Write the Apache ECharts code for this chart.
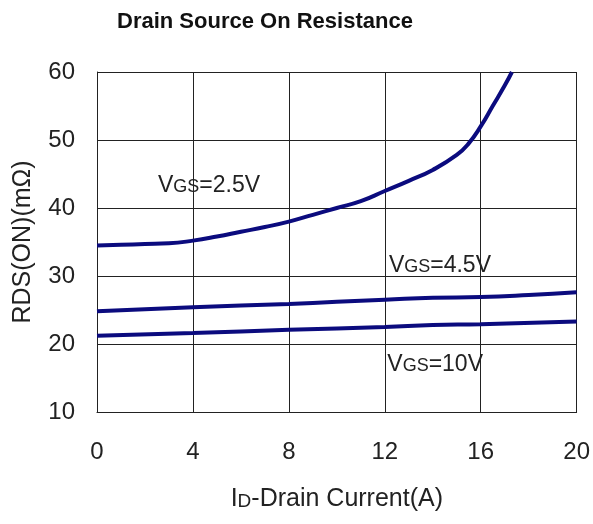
<!DOCTYPE html>
<html>
<head>
<meta charset="utf-8">
<script src="https://cdn.jsdelivr.net/npm/echarts@6/dist/echarts.min.js"></script>
<style>
  html, body { margin: 0; padding: 0; background: #fff; }
  #chart { width: 593px; height: 524px; }
</style>
</head>
<body>
<div id="chart"></div>
<script>
  // drain current (A) / on resistance (mOhm)
  var idVgs25 = [0, 1, 2, 3, 4, 5, 6, 7, 8, 9, 10, 11, 12, 13, 14, 15, 15.5, 16, 16.5, 17, 17.3];
  var rdsVgs25 = [34.5, 34.6, 34.7, 34.8, 35.2, 35.8, 36.5, 37.2, 38, 39, 40, 41, 42.5, 44, 45.6, 47.8, 49.5, 52, 55, 58, 60];
  var idVgs45 = [0, 4, 8, 10, 12, 14, 16, 18, 20];
  var rdsVgs45 = [24.8, 25.4, 25.9, 26.2, 26.5, 26.8, 26.9, 27.2, 27.6];
  var idVgs10 = [0, 4, 8, 12, 14, 16, 20];
  var rdsVgs10 = [21.2, 21.6, 22.1, 22.5, 22.8, 22.9, 23.3];

  // label anchors in data space
  var lbl25 = [4.67, 43.3];
  var lbl45 = [14.3, 31.5];
  var lbl10 = [14.1, 17.0];

  var lineColor = '#0b0b7e';
  var font = '"Liberation Sans", Arial, sans-serif';

  function pairs(xs, ys) {
    return xs.map(function (x, i) { return [x, ys[i]]; });
  }

  function vgsLabel(text, coord) {
    return {
      symbol: 'circle',
      symbolSize: 1,
      silent: true,
      itemStyle: { color: 'rgba(0,0,0,0)' },
      data: [{
        coord: coord,
        label: {
          show: true,
          position: 'inside',
          formatter: '{a|V}{b|GS}{a|=' + text + '}',
          rich: {
            a: { fontSize: 23, color: '#222', fontFamily: font },
            b: { fontSize: 18, color: '#222', fontFamily: font, verticalAlign: 'bottom', padding: [0, 0, 1, 0] }
          }
        }
      }]
    };
  }

  function curve(xs, ys, text, coord) {
    return {
      type: 'line',
      smooth: true,
      symbol: 'none',
      clip: true,
      lineStyle: { color: lineColor, width: 4 },
      data: pairs(xs, ys),
      markPoint: vgsLabel(text, coord)
    };
  }

  var chart = echarts.init(document.getElementById('chart'));
  chart.setOption({
    animation: false,
    title: {
      text: 'Drain Source On Resistance',
      left: 112,
      top: 6,
      textStyle: { fontSize: 22, fontWeight: 'bold', color: '#111', fontFamily: font }
    },
    grid: { left: 97, right: 16, top: 72, bottom: 112 },
    xAxis: {
      type: 'value',
      min: 0,
      max: 20,
      interval: 4,
      name: '{a|I}{b|D}{a|-Drain Current(A)}',
      nameLocation: 'middle',
      nameGap: 75,
      nameTextStyle: {
        rich: {
          a: { fontSize: 25, color: '#222', fontFamily: font },
          b: { fontSize: 19, color: '#222', fontFamily: font, verticalAlign: 'bottom', padding: [0, 0, 1, 0] }
        }
      },
      axisLine: { show: true, lineStyle: { color: '#222', width: 1 } },
      axisTick: { show: false },
      axisLabel: { fontSize: 24, color: '#222', fontFamily: font, margin: 28 },
      splitLine: { show: true, lineStyle: { color: '#222', width: 1 } }
    },
    yAxis: {
      type: 'value',
      min: 10,
      max: 60,
      interval: 10,
      name: 'RDS(ON)(mΩ)',
      nameLocation: 'middle',
      nameGap: 61,
      nameTextStyle: { fontSize: 25, color: '#222', fontFamily: font },
      axisLine: { show: true, lineStyle: { color: '#222', width: 1 } },
      axisTick: { show: false },
      axisLabel: { fontSize: 24, color: '#222', fontFamily: font, margin: 22 },
      splitLine: { show: true, lineStyle: { color: '#222', width: 1 } }
    },
    series: [
      curve(idVgs25, rdsVgs25, '2.5V', lbl25),
      curve(idVgs45, rdsVgs45, '4.5V', lbl45),
      curve(idVgs10, rdsVgs10, '10V', lbl10)
    ]
  });
</script>
</body>
</html>
